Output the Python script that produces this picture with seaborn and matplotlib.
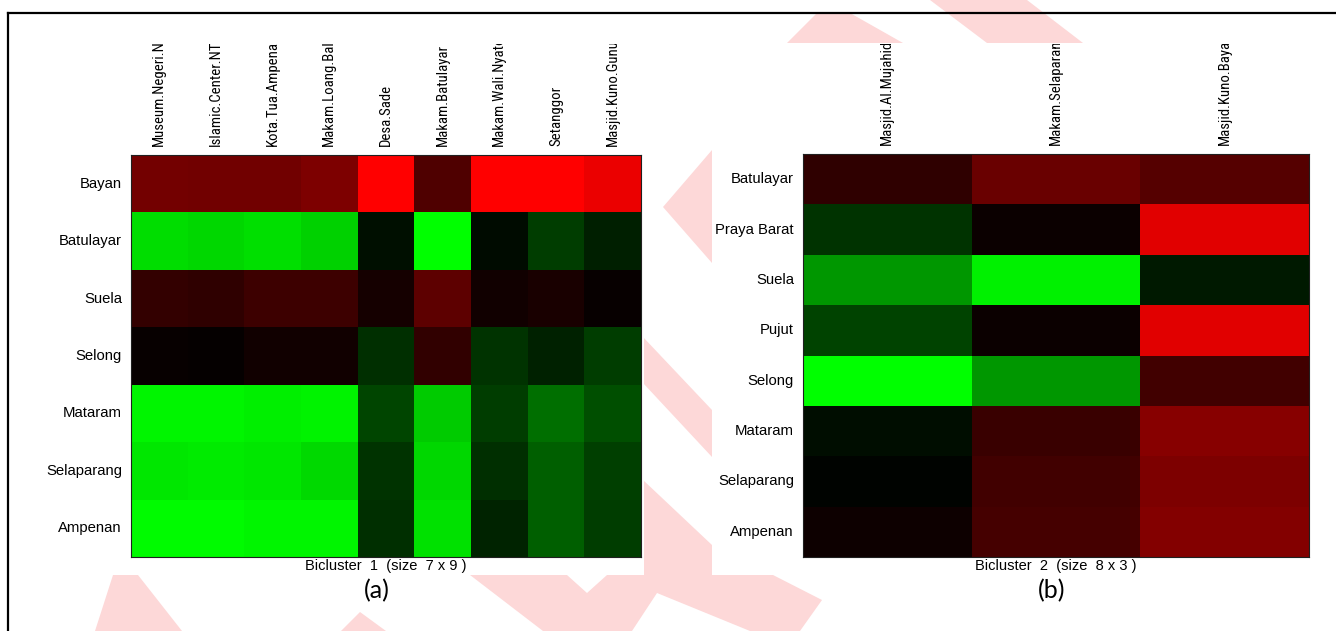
import numpy as np
import pandas as pd
import matplotlib
matplotlib.use("Agg")
import matplotlib.pyplot as plt
import seaborn as sns
from matplotlib.colors import LinearSegmentedColormap
from matplotlib.patches import Polygon, Rectangle
from matplotlib.lines import Line2D
from matplotlib.transforms import Bbox, TransformedBbox
from matplotlib import font_manager

# ---------------- data ----------------
rows1 = ["Bayan", "Batulayar", "Suela", "Selong", "Mataram", "Selaparang", "Ampenan"]
cols1 = ["Museum.Negeri.NTB", "Islamic.Center.NTB", "Kota.Tua.Ampenan", "Makam.Loang.Baloq",
         "Desa.Sade", "Makam.Batulayar", "Makam.Wali.Nyatok", "Setanggor", "Masjid.Kuno.Gunung.Pujut"]
vals1 = [
    [0.45, 0.44, 0.44, 0.49, 1.00, 0.31, 1.00, 1.00, 0.92],
    [-0.86, -0.84, -0.87, -0.82, -0.06, -1.00, -0.04, -0.24, -0.12],
    [0.20, 0.18, 0.24, 0.24, 0.08, 0.36, 0.07, 0.10, 0.03],
    [0.03, 0.02, 0.07, 0.07, -0.18, 0.19, -0.20, -0.13, -0.24],
    [-0.96, -0.96, -0.93, -0.95, -0.27, -0.79, -0.24, -0.43, -0.31],
    [-0.90, -0.92, -0.90, -0.85, -0.20, -0.84, -0.18, -0.37, -0.25],
    [-0.98, -0.98, -0.96, -0.96, -0.18, -0.88, -0.14, -0.37, -0.24],
]
title1 = "Bicluster  1  (size  7 x 9 )"
panel1 = "(a)"

rows2 = ["Batulayar", "Praya Barat", "Suela", "Pujut", "Selong", "Mataram", "Selaparang", "Ampenan"]
cols2 = ["Masjid.Al.Mujahidin", "Makam.Selaparang", "Masjid.Kuno.Bayan.Beleq"]
vals2 = [
    [0.18, 0.41, 0.33],
    [-0.20, 0.04, 0.88],
    [-0.59, -0.94, -0.10],
    [-0.26, 0.04, 0.88],
    [-1.00, -0.59, 0.25],
    [-0.05, 0.22, 0.53],
    [-0.01, 0.25, 0.49],
    [0.05, 0.27, 0.51],
]
title2 = "Bicluster  2  (size  8 x 3 )"
panel2 = "(b)"

# ---------------- figure ----------------
W, H = 1336, 631
fig = plt.figure(figsize=(W / 100, H / 100), dpi=100)
fig.patch.set_facecolor("white")

def px(x, y):
    return (x / W, 1 - y / H)

pink = "#fdd8d8"
wm = [
    [(787, 43), (817, 13), (850, 13), (903, 43)],
    [(930, 0), (1027, 0), (1083, 43), (987, 43)],
    [(663, 207), (712, 150), (712, 263)],
    [(643, 337), (712, 410), (712, 457), (643, 383)],
    [(643, 480), (712, 545), (712, 580), (643, 580)],
    [(470, 575), (567, 575), (587, 593), (607, 575), (773, 575), (822, 600), (800, 631),
     (750, 631), (657, 593), (632, 631), (543, 631)],
    [(113, 575), (138, 575), (182, 631), (95, 631)],
    [(360, 612), (386, 631), (341, 631)],
]
for poly in wm:
    fig.patches.append(Polygon([px(*p) for p in poly], closed=True, transform=fig.transFigure,
                               facecolor=pink, edgecolor="none", zorder=0))

# white panels
for (x0, y0, x1, y1) in [(10, 14, 644, 575), (712, 43, 1336, 575)]:
    fig.patches.append(Rectangle(px(x0, y1), (x1 - x0) / W, (y1 - y0) / H, transform=fig.transFigure,
                                 facecolor="white", edgecolor="none", zorder=0.5))

# frame
fig.lines.append(Line2D([8 / W, 1], [1 - 13 / H] * 2, transform=fig.transFigure, color="black", lw=1.6, zorder=5))
fig.lines.append(Line2D([8 / W] * 2, [1 - 13 / H, 0], transform=fig.transFigure, color="black", lw=1.6, zorder=5))

cmap = LinearSegmentedColormap.from_list("gbr", [(0, 1, 0), (0, 0, 0), (1, 0, 0)])

# pick a condensed face for the rotated column labels if one is installed
col_font = ["Liberation Sans", "DejaVu Sans"]
col_stretch = "normal"
col_size = 9.2
cond_names = {"Liberation Sans Narrow": 11.0, "DejaVu Sans Condensed": 9.6,
              "Roboto Condensed": 10.6, "Open Sans Condensed": 10.6, "Noto Sans Condensed": 10.6}
found = None
for f in font_manager.fontManager.ttflist:
    if f.name in cond_names and f.style == "normal":
        found = (f.name, "normal", cond_names[f.name])
        break
if found is None:
    for f in font_manager.fontManager.ttflist:
        st = f.stretch
        if f.name in ("Liberation Sans", "DejaVu Sans", "Noto Sans", "Roboto", "Open Sans", "Inter") \
                and st in ("condensed", "semi-condensed", 500 - 125, 375, 300) and f.style == "normal" \
                and f.weight in (400, "normal", "regular"):
            found = (f.name, st, 10.4)
            break
if found is not None:
    col_font = [found[0], "Liberation Sans", "DejaVu Sans"]
    col_stretch = found[1]
    col_size = found[2]

label_font = ["Liberation Sans", "DejaVu Sans"]
clip_bbox = TransformedBbox(Bbox.from_extents(0, 0, 1, 1 - 44 / H), fig.transFigure)

def draw(box, rows, cols, vals, title, tcx, pcx, pname):
    x0, y0, x1, y1 = box
    ax = fig.add_axes([x0 / W, 1 - y1 / H, (x1 - x0) / W, (y1 - y0) / H])
    ax.set_zorder(2)
    df = pd.DataFrame(vals, index=rows, columns=cols)
    sns.heatmap(df, ax=ax, cmap=cmap, vmin=-1, vmax=1, cbar=False, linewidths=0)
    ax.xaxis.tick_top()
    ax.tick_params(axis="both", length=0)
    ax.tick_params(axis="x", pad=6.5)
    ax.tick_params(axis="y", pad=6.5)
    ax.set_xticklabels(cols, rotation=90, fontsize=col_size, family=col_font, stretch=col_stretch,
                       va="bottom", ha="center")
    ax.set_yticklabels(rows, rotation=0, fontsize=10.7, family=label_font)
    for lbl in ax.get_xticklabels():
        lbl.set_clip_box(clip_bbox)
        lbl.set_clip_on(True)
    ax.set_xlabel("")
    ax.set_ylabel("")
    for s in ax.spines.values():
        s.set_visible(True)
        s.set_color("#202020")
        s.set_linewidth(0.8)
    fig.text(*px(tcx, 566), title, ha="center", va="center", fontsize=10.5, family=label_font, zorder=3)
    fig.text(*px(pcx, 591), pname, ha="center", va="center", fontsize=18, family=["Lato", "DejaVu Sans"], zorder=3)
    return ax

draw((131, 155, 641, 557), rows1, cols1, vals1, title1, 386, 377, panel1)
draw((803, 154, 1309, 557), rows2, cols2, vals2, title2, 1056, 1052, panel2)

fig.savefig("out.png", dpi=100, facecolor="white")
